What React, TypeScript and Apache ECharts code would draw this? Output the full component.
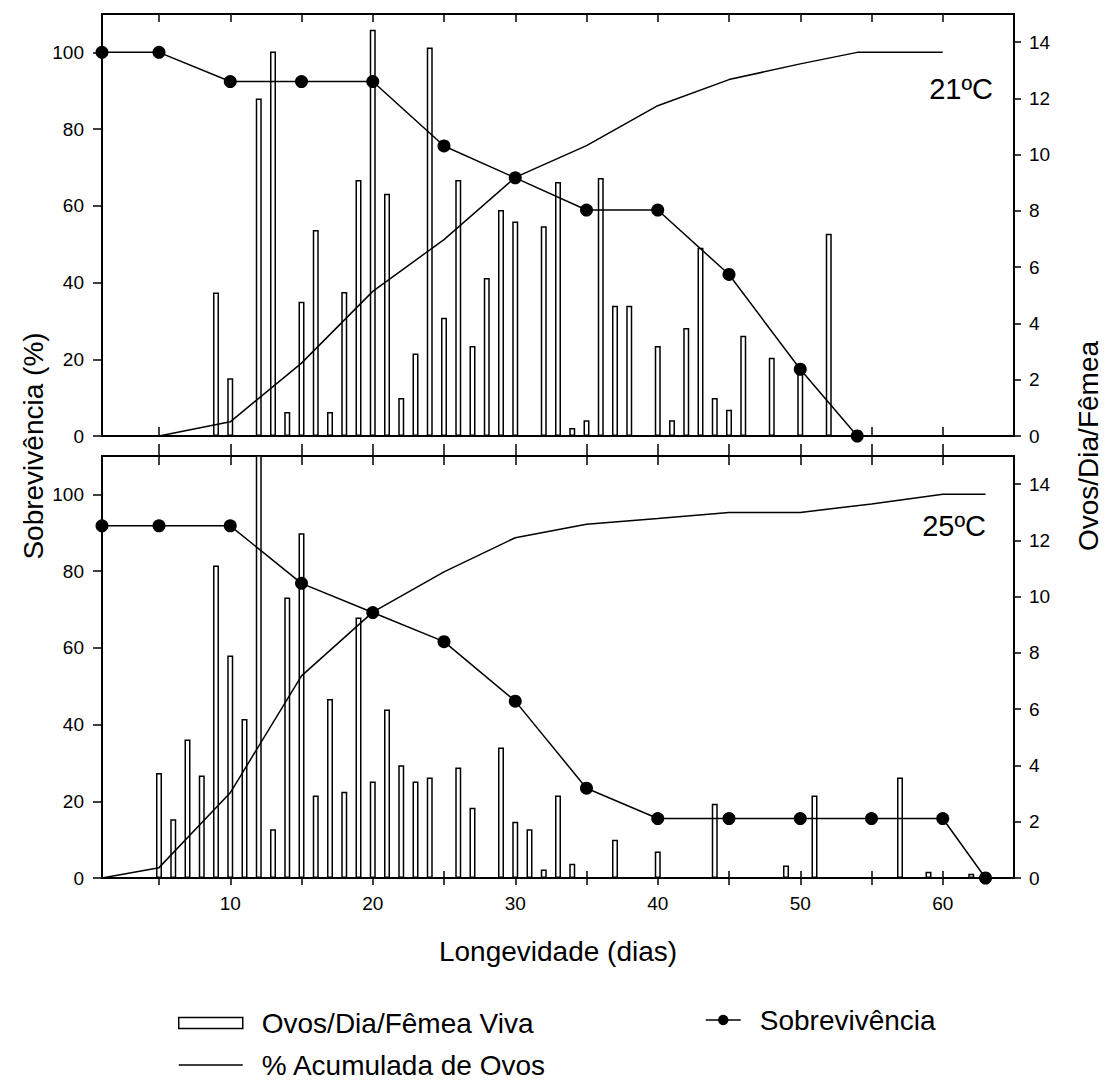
import React, { useEffect, useRef } from "react";
import * as echarts from "echarts";

// ---------- 21ºC ----------
const days21 = [9, 10, 12, 13, 14, 15, 16, 17, 18, 19, 20, 21, 22, 23, 24, 25, 26, 27, 28, 29, 30, 32, 33, 34, 35, 36, 37, 38, 40, 41, 42, 43, 44, 45, 46, 48, 50, 52];
const eggs21 = [5.1, 2.05, 12.0, 13.67, 0.85, 4.77, 7.32, 0.85, 5.12, 9.1, 14.44, 8.61, 1.35, 2.93, 13.81, 4.2, 9.1, 3.2, 5.62, 8.03, 7.62, 7.46, 9.03, 0.28, 0.56, 9.17, 4.63, 4.63, 3.2, 0.56, 3.84, 6.69, 1.35, 0.93, 3.56, 2.78, 2.3, 7.19];
const survDays21 = [1, 5, 10, 15, 20, 25, 30, 35, 40, 45, 50, 54];
const surv21 = [100, 100, 92.4, 92.4, 92.4, 75.6, 67.3, 58.9, 58.9, 42.1, 17.4, 0];
const cumDays21 = [5, 10, 15, 20, 25, 30, 35, 40, 45, 50, 54, 60];
const cum21 = [0, 3.7, 19, 37.7, 51.2, 67.4, 75.7, 86.1, 92.9, 97, 100, 100];

// ---------- 25ºC ----------
const days25 = [5, 6, 7, 8, 9, 10, 11, 12, 13, 14, 15, 16, 17, 18, 19, 20, 21, 22, 23, 24, 26, 27, 29, 30, 31, 32, 33, 34, 37, 40, 44, 49, 51, 57, 59, 62];
const eggs25 = [3.73, 2.09, 4.92, 3.64, 11.11, 7.91, 5.65, 16, 1.73, 9.97, 12.25, 2.93, 6.36, 3.07, 9.26, 3.43, 5.99, 4.01, 3.43, 3.57, 3.93, 2.5, 4.64, 2.0, 1.73, 0.3, 2.93, 0.51, 1.36, 0.94, 2.64, 0.44, 2.93, 3.57, 0.22, 0.15];
const survDays25 = [1, 5, 10, 15, 20, 25, 30, 35, 40, 45, 50, 55, 60, 63];
const surv25 = [91.8, 91.8, 91.8, 76.8, 69.2, 61.6, 46.1, 23.4, 15.5, 15.5, 15.5, 15.5, 15.5, 0];
const cumDays25 = [1, 5, 10, 15, 20, 25, 30, 35, 40, 45, 50, 55, 60, 63];
const cum25 = [0, 2.7, 22.2, 52.7, 69.3, 79.8, 88.7, 92.2, 93.7, 95.3, 95.3, 97.5, 100, 100];

// ---------- axes ----------
const xTicks = [5, 10, 15, 20, 25, 30, 35, 40, 45, 50, 55, 60];
const xLabels = [10, 20, 30, 40, 50, 60];
const leftTicks = [0, 20, 40, 60, 80, 100];
const rightTicks = [0, 2, 4, 6, 8, 10, 12, 14];

const BAR_NAME = "Ovos/Dia/Fêmea Viva";
const SURV_NAME = "Sobrevivência";
const CUM_NAME = "% Acumulada de Ovos";

const FONT = "'Liberation Sans', Arial, Helvetica, sans-serif";

const zip = (xs: number[], ys: number[]) => xs.map((x, i) => [x, ys[i]]);

function xAx(gridIndex: number, position: string, inside: boolean, len: number, showLabel: boolean) {
  return {
    type: "value",
    gridIndex,
    position,
    min: 1,
    max: 65,
    axisLine: { show: true, onZero: false, lineStyle: { color: "#000", width: 2 } },
    axisTick: { show: true, inside, length: len, customValues: xTicks, lineStyle: { color: "#000", width: 1.5 } },
    axisLabel: { show: showLabel, customValues: xLabels, color: "#000", fontSize: 19, margin: 16, fontFamily: FONT },
    splitLine: { show: false },
  };
}

function yAx(gridIndex: number, position: string, max: number, ticks: number[], len: number, margin: number) {
  return {
    type: "value",
    gridIndex,
    position,
    min: 0,
    max,
    axisLine: { show: true, onZero: false, lineStyle: { color: "#000", width: 2 } },
    axisTick: { show: true, inside: false, length: len, customValues: ticks, lineStyle: { color: "#000", width: 1.5 } },
    axisLabel: { show: true, customValues: ticks, color: "#000", fontSize: 19, margin, fontFamily: FONT },
    splitLine: { show: false },
  };
}

function panelSeries(xIdx: number, yLeft: number, yRight: number, days: number[], eggs: number[], sd: number[], sv: number[], cd: number[], cv: number[]) {
  return [
    {
      name: BAR_NAME,
      type: "bar",
      xAxisIndex: xIdx,
      yAxisIndex: yRight,
      barWidth: 6,
      data: zip(days, eggs),
      itemStyle: { color: "#fff", borderColor: "#000", borderWidth: 1.5 },
      z: 2,
    },
    {
      name: CUM_NAME,
      type: "line",
      xAxisIndex: xIdx,
      yAxisIndex: yLeft,
      symbol: "none",
      data: zip(cd, cv),
      lineStyle: { color: "#000", width: 1.5 },
      itemStyle: { color: "#000" },
      z: 3,
    },
    {
      name: SURV_NAME,
      type: "line",
      xAxisIndex: xIdx,
      yAxisIndex: yLeft,
      symbol: "circle",
      symbolSize: 13,
      data: zip(sd, sv),
      lineStyle: { color: "#000", width: 1.5 },
      itemStyle: { color: "#000" },
      z: 4,
    },
  ];
}

export default function App() {
  const ref = useRef<HTMLDivElement>(null);

  useEffect(() => {
    if (!ref.current) return;
    const chart = echarts.init(ref.current, null, { renderer: "svg" });
    const legendText = { color: "#000", fontSize: 28, fontFamily: FONT, lineHeight: 30, padding: [0, 0, 0, 14] };
    const option: any = {
      animation: false,
      backgroundColor: "#fff",
      textStyle: { fontFamily: FONT },
      grid: [
        { left: 102, top: 14, width: 912, height: 422 },
        { left: 102, top: 456, width: 912, height: 422 },
      ],
      xAxis: [
        xAx(0, "bottom", true, 9, false),
        xAx(0, "top", true, 8, false),
        xAx(1, "bottom", false, 7, true),
        xAx(1, "bottom", true, 7, false),
        xAx(1, "top", true, 9, false),
        xAx(1, "top", false, 12, false),
      ],
      yAxis: [
        yAx(0, "left", 110, leftTicks, 9, 18),
        yAx(0, "right", 15, rightTicks, 7, 15),
        yAx(1, "left", 110, leftTicks, 9, 18),
        yAx(1, "right", 15, rightTicks, 7, 15),
      ],
      legend: [
        {
          data: [BAR_NAME],
          left: 178,
          top: 1008,
          padding: 0,
          icon: "rect",
          itemWidth: 64,
          itemHeight: 11,
          itemStyle: { color: "#fff", borderColor: "#000", borderWidth: 1.5 },
          textStyle: legendText,
          selectedMode: false,
        },
        {
          data: [SURV_NAME],
          left: 705,
          top: 1005,
          padding: 0,
          itemWidth: 35,
          itemHeight: 13,
          itemStyle: { color: "#000" },
          lineStyle: { color: "#000", width: 1.5 },
          textStyle: legendText,
          selectedMode: false,
        },
        {
          data: [CUM_NAME],
          left: 178,
          top: 1050,
          padding: 0,
          itemWidth: 64,
          itemHeight: 12,
          itemStyle: { color: "rgba(0,0,0,0)", borderWidth: 0 },
          lineStyle: { color: "#000", width: 1.5 },
          textStyle: legendText,
          selectedMode: false,
        },
      ],
      graphic: [
        {
          type: "text",
          x: 33,
          y: 446,
          rotation: Math.PI / 2,
          style: { text: "Sobrevivência (%)", fontSize: 28, fontFamily: FONT, fill: "#000", align: "center", verticalAlign: "middle" },
        },
        {
          type: "text",
          x: 1088,
          y: 446,
          rotation: Math.PI / 2,
          style: { text: "Ovos/Dia/Fêmea", fontSize: 28, fontFamily: FONT, fill: "#000", align: "center", verticalAlign: "middle" },
        },
        {
          type: "text",
          x: 558,
          y: 951,
          style: { text: "Longevidade (dias)", fontSize: 28, fontFamily: FONT, fill: "#000", align: "center", verticalAlign: "middle" },
        },
        {
          type: "text",
          x: 993,
          y: 89,
          style: { text: "21ºC", fontSize: 29, fontFamily: FONT, fill: "#000", align: "right", verticalAlign: "middle" },
        },
        {
          type: "text",
          x: 986,
          y: 526,
          style: { text: "25ºC", fontSize: 29, fontFamily: FONT, fill: "#000", align: "right", verticalAlign: "middle" },
        },
      ],
      series: [
        ...panelSeries(0, 0, 1, days21, eggs21, survDays21, surv21, cumDays21, cum21),
        ...panelSeries(2, 2, 3, days25, eggs25, survDays25, surv25, cumDays25, cum25),
      ],
    };
    chart.setOption(option);
    return () => chart.dispose();
  }, []);

  return (
    <div
      ref={ref}
      style={{ position: "fixed", left: 0, top: 0, width: 1105, height: 1082, background: "#fff" }}
    />
  );
}
